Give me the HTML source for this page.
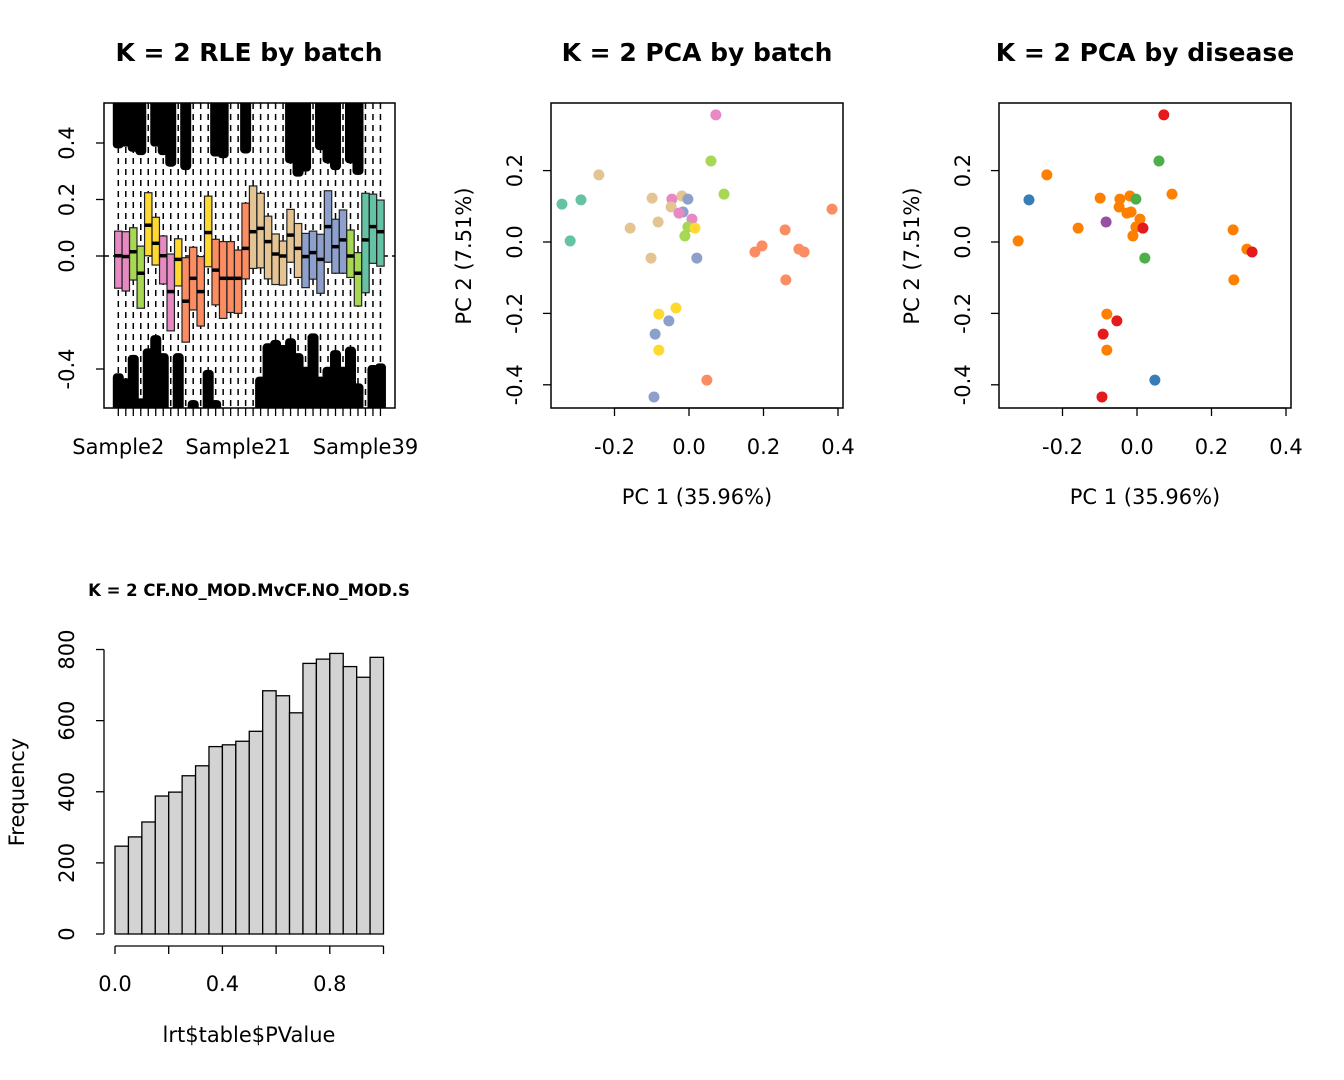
<!DOCTYPE html>
<html><head><meta charset="utf-8"><style>
body{margin:0;background:#fff}
svg text{font-family:"DejaVu Sans","Liberation Sans",sans-serif;fill:#000}
</style></head><body>
<svg id="s" width="1344" height="1075" xmlns="http://www.w3.org/2000/svg"></svg>
<script>
// ---------- RLE data ----------
const rleColorIdx=[3,3,4,4,5,5,3,3,5,1,1,1,5,1,1,1,1,1,6,6,6,6,6,6,6,2,2,2,2,2,2,4,4,0,0,0];
const rleQ3=[.088,.086,.100,.035,.224,.137,.071,.007,.061,-.006,.031,-.002,.212,.059,.051,.051,.021,.187,.248,.222,.141,.078,.053,.165,.115,.080,.088,.077,.231,.130,.163,.092,.012,.222,.219,.198];
const rleMed=[.001,-.002,.015,-.061,.109,.045,.001,-.126,-.012,-.160,-.079,-.126,.083,-.050,-.079,-.079,-.079,.027,.086,.098,.051,.007,0,.074,.027,-.002,.012,-.012,.104,.033,.057,0,-.061,.057,.104,.086];
const rleQ1=[-.114,-.124,-.085,-.185,.001,-.032,-.099,-.265,-.106,-.305,-.191,-.248,-.038,-.173,-.221,-.200,-.203,-.081,-.044,-.042,-.081,-.101,-.103,-.022,-.076,-.112,-.082,-.132,-.022,-.061,-.061,-.076,-.177,-.130,-.026,-.036];
const rleTopOut=[.381,.387,.369,.357,.6,.387,.357,.316,.6,.304,.6,.6,.6,.352,.346,.6,.6,.363,.6,.6,.6,.6,.6,.328,.281,.299,.6,.375,.328,.304,.6,.328,.287,.6,.6,.6];
const rleBotOut=[-.415,-.433,-.350,-.504,-.327,-.280,-.344,-.6,-.344,-.6,-.510,-.6,-.403,-.510,-.6,-.6,-.6,-.6,-.6,-.427,-.309,-.297,-.315,-.291,-.344,-.392,-.274,-.427,-.392,-.333,-.392,-.321,-.451,-.6,-.386,-.380];
const rleXLabels=["Sample2","Sample21","Sample39"];
const rleXLabelIdx=[0,16,33];
const rleYTicks=[0.4,0.2,0.0,-0.4];
const set2=["#66C2A5","#FC8D62","#8DA0CB","#E78AC3","#A6D854","#FFD92F","#E5C494"];
// ---------- PCA data ----------
const pc1=[.072,.059,-.242,.094,-.341,-.290,-.099,-.019,-.046,-.003,-.048,-.016,-.027,.008,-.083,-.158,-.003,.016,-.011,-.319,-.102,.021,.384,.258,.196,.177,.295,.309,.260,-.035,-.081,-.054,-.091,-.081,.048,-.094];
const pc2=[.356,.227,.188,.134,.106,.118,.123,.129,.120,.120,.098,.084,.081,.064,.056,.039,.042,.039,.017,.003,-.045,-.045,.092,.034,-.011,-.028,-.020,-.028,-.106,-.185,-.202,-.221,-.258,-.303,-.387,-.434];
const batchIdx=[3,4,6,4,0,0,6,6,3,2,6,2,3,3,6,6,4,5,4,0,6,2,1,1,1,1,1,1,1,5,5,2,2,5,1,2];
const diseaseCol=["#E41A1C","#4DAF4A","#FF7F00","#FF7F00",null,"#377EB8","#FF7F00","#FF7F00","#FF7F00","#4DAF4A","#FF7F00","#FF7F00","#FF7F00","#FF7F00","#984EA3","#FF7F00","#FF7F00","#E41A1C","#FF7F00","#FF7F00",null,"#4DAF4A",null,"#FF7F00",null,null,"#FF7F00","#E41A1C","#FF7F00",null,"#FF7F00","#E41A1C","#E41A1C","#FF7F00","#377EB8","#E41A1C"];
const pcaXTicks=[-0.2,0.0,0.2,0.4];
const pcaYTicks=[0.2,0.0,-0.2,-0.4];
// ---------- Histogram data ----------
const histCounts=[247,273,315,388,399,445,473,527,532,542,570,684,670,622,761,773,789,752,722,778];
const histXTicks=[0.0,0.4,0.8];
const histYTicks=[0,200,400,600,800];

const S=document.getElementById('s');
const NS="http://www.w3.org/2000/svg";
function el(tag,attrs,parent){const e=document.createElementNS(NS,tag);for(const k in attrs)e.setAttribute(k,attrs[k]);(parent||S).appendChild(e);return e;}
function txt(x,y,s,size,opts,parent){opts=opts||{};const t=el('text',{x:x,y:y,'font-size':size,'text-anchor':opts.anchor||'middle','font-weight':opts.bold?'bold':'normal'},parent);if(opts.rot)t.setAttribute('transform','rotate(-90 '+x+' '+y+')');t.textContent=s;return t;}
const fmt=v=>v.toFixed(1);
const FS=21, TS=25;

// ===== RLE panel =====
(function(){
const g=el('g',{});


const L=104,R=395,T=103,B=408;
const xs=i=>118.3+i*7.49;
const ys=v=>256-v*282.5;
const defs=el('defs',{},g);const cp=el('clipPath',{id:'c1'},defs);el('rect',{x:L,y:T,width:R-L,height:B-T},cp);
const inner=el('g',{'clip-path':'url(#c1)'},g);
const zl=el('line',{x1:L,x2:R,y1:ys(0),y2:ys(0),stroke:'#000','stroke-width':1.5,'stroke-dasharray':'5,4'},inner);


for(let i=0;i<rleMed.length;i++){
 const x=xs(i);
 const w=el('line',{x1:x,x2:x,y1:T,y2:B,stroke:'#000','stroke-width':1.5,'stroke-dasharray':'6,5'},inner);
 
 
 const to=el('rect',{x:x-5.5,y:T-5,width:11,height:Math.max(0,ys(rleTopOut[i])-T+5),fill:'#000',rx:4},inner);
 
 
 const bo=el('rect',{x:x-5.5,y:ys(rleBotOut[i]),width:11,height:Math.max(0,B+5-ys(rleBotOut[i])),fill:'#000',rx:4},inner);
 
 
}
for(let i=0;i<rleMed.length;i++){
 const x=xs(i);
 const b=el('rect',{x:x-3.7,y:ys(rleQ3[i]),width:7.4,height:ys(rleQ1[i])-ys(rleQ3[i]),fill:set2[rleColorIdx[i]],stroke:'#222','stroke-width':1.2},inner);
 
 
 el('line',{x1:x-3.7,x2:x+3.7,y1:ys(rleMed[i]),y2:ys(rleMed[i]),stroke:'#000','stroke-width':3.5},inner);
 const tk=el('line',{x1:x,x2:x,y1:B,y2:B+8,stroke:'#000','stroke-width':1.3},g);
 
 
}
const fr=el('rect',{x:L,y:T,width:R-L,height:B-T,fill:'none',stroke:'#000','stroke-width':1.5},g);


rleYTicks.forEach(v=>{el('line',{x1:L,x2:L-8,y1:ys(v),y2:ys(v),stroke:'#000','stroke-width':1.3},g);
 const t=txt(74,ys(v),fmt(v),FS,{rot:true},g);
 
 });
rleXLabels.forEach((s,k)=>{const t=txt(xs(rleXLabelIdx[k]),454,s,FS,{},g);
 
 });
const tt=txt(249,61,'K = 2 RLE by batch',TS,{bold:true},g);


})();

// ===== PCA panels =====
function pca(off,title,colorFn,name){
 const g=el('g',{});
 
 
 const L=551+off,R=843+off,T=103,B=408;
 const xs=v=>689+off+v*372.5;
 const ys=v=>242-v*357;
 for(let i=0;i<pc1.length;i++){const c=colorFn(i);if(!c)continue;
  const p=el('circle',{cx:xs(pc1[i]),cy:ys(pc2[i]),r:5.5,fill:c},g);
  
  }
 const fr=el('rect',{x:L,y:T,width:R-L,height:B-T,fill:'none',stroke:'#000','stroke-width':1.5},g);
 
 
 el('line',{x1:xs(-0.2),x2:xs(0.4),y1:B,y2:B,stroke:'#000','stroke-width':1.3},g);
 pcaXTicks.forEach(v=>{el('line',{x1:xs(v),x2:xs(v),y1:B,y2:B+8,stroke:'#000','stroke-width':1.3},g);
  const t=txt(xs(v),454,fmt(v),FS,{},g);
  
  });
 pcaYTicks.forEach(v=>{el('line',{x1:L,x2:L-8,y1:ys(v),y2:ys(v),stroke:'#000','stroke-width':1.3},g);
  const t=txt(522+off,ys(v),fmt(v),FS,{rot:true},g);
  
  });
 const xt=txt(697+off,504,'PC 1 (35.96%)',FS,{},g);
 
 
 const yt=txt(471+off,256,'PC 2 (7.51%)',FS,{rot:true},g);
 
 
 const tt=txt(697+off,61,title,TS,{bold:true},g);
 
 
}
pca(0,'K = 2 PCA by batch',i=>set2[batchIdx[i]],'pca-batch-panel');
pca(448,'K = 2 PCA by disease',i=>diseaseCol[i],'pca-disease-panel');

// ===== Histogram =====
(function(){
 const g=el('g',{});
 
 
 const xs=v=>115+v*268.5;
 const ys=v=>934-v*0.3556;
 const bw=1/histCounts.length;
 histCounts.forEach((c,i)=>{const b=el('rect',{x:xs(i*bw),y:ys(c),width:xs(bw)-xs(0),height:ys(0)-ys(c),fill:'#D3D3D3',stroke:'#000','stroke-width':1.3},g);
  
  });
 el('line',{x1:104,x2:104,y1:ys(0),y2:ys(800),stroke:'#000','stroke-width':1.3},g);
 histYTicks.forEach(v=>{el('line',{x1:104,x2:96,y1:ys(v),y2:ys(v),stroke:'#000','stroke-width':1.3},g);
  const t=txt(74,ys(v),String(v),FS,{rot:true},g);
  
  });
 el('line',{x1:xs(0),x2:xs(1),y1:946,y2:946,stroke:'#000','stroke-width':1.3},g);
 [0,0.2,0.4,0.6,0.8,1.0].forEach(v=>el('line',{x1:xs(v),x2:xs(v),y1:946,y2:954,stroke:'#000','stroke-width':1.3},g));
 histXTicks.forEach(v=>{const t=txt(xs(v),991,fmt(v),FS,{},g);
  
  });
 const xt=txt(249,1042,'lrt$table$PValue',FS,{},g);
 
 
 const yt=txt(24,792,'Frequency',FS,{rot:true},g);
 
 
 const tt=txt(249,596,'K = 2 CF.NO_MOD.MvCF.NO_MOD.S',16.5,{bold:true},g);
 
 
})();
</script>
</body></html>
